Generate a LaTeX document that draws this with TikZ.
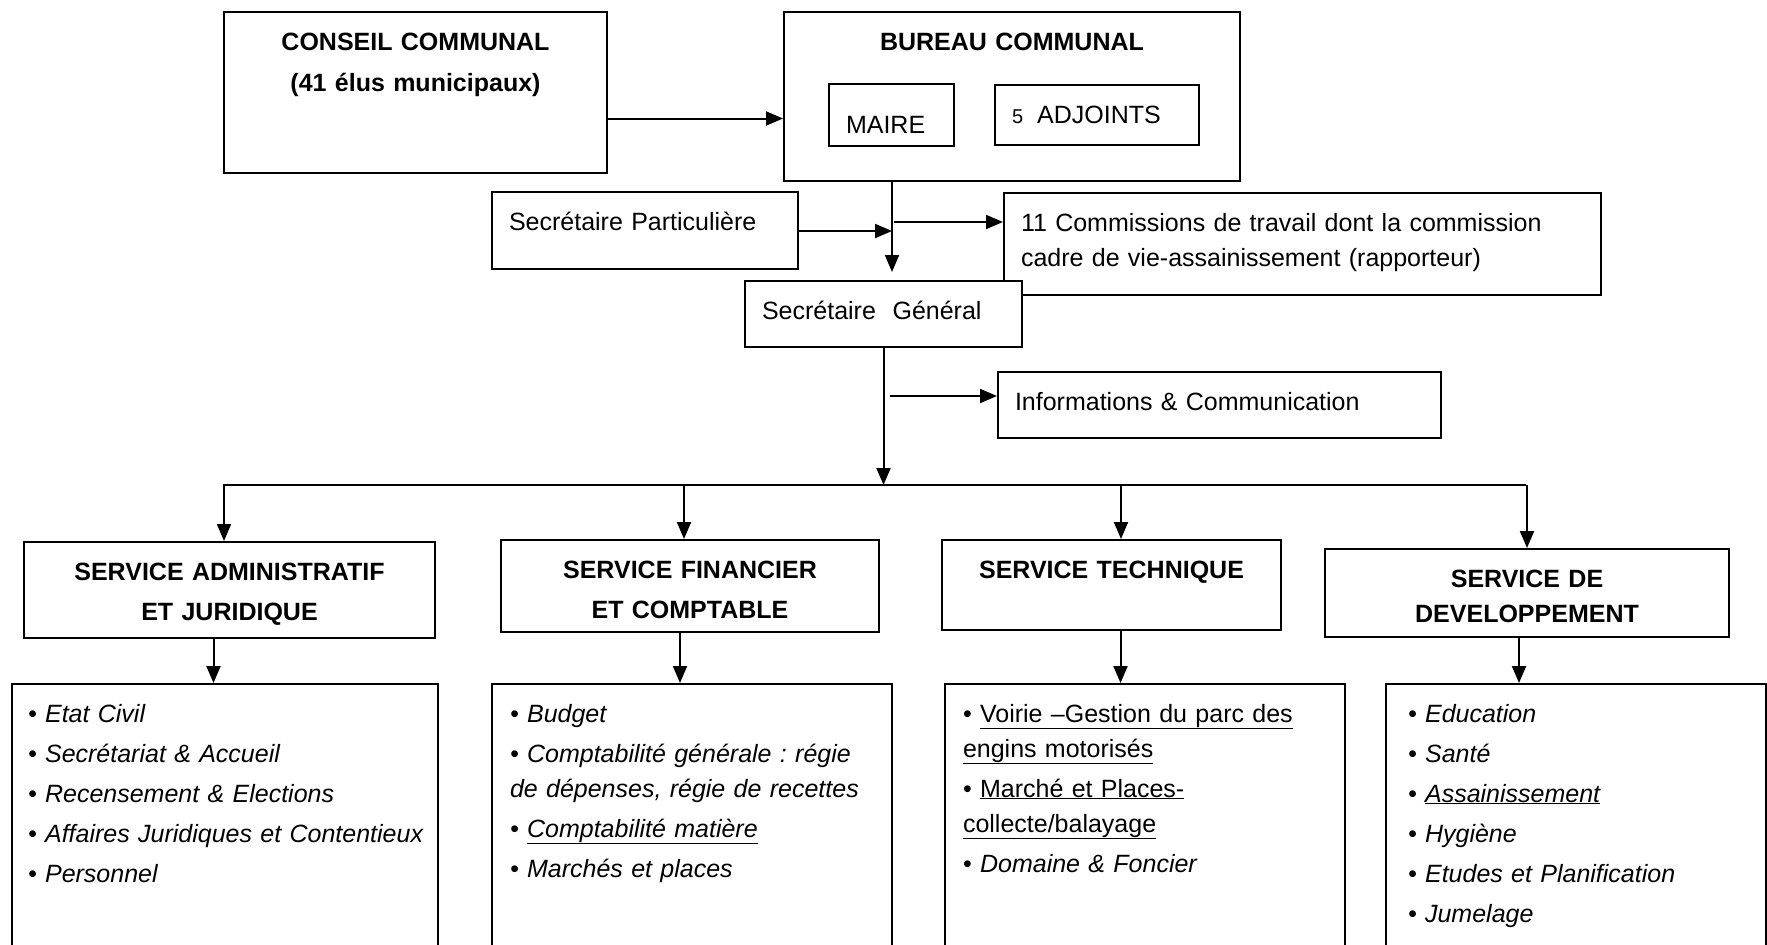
\documentclass[tikz,border=0pt]{standalone}
\usepackage{fontspec}
\setmainfont{Liberation Sans}
\usetikzlibrary{arrows.meta}
\frenchspacing

\begin{document}
\begin{tikzpicture}[x = 1pt, y = -1pt,
        orgbox/.style = {draw, line width = 2pt, fill = white, anchor = north west,
            inner xsep = 17pt, inner ysep = 0pt, text height = 38pt, align = left,
            font = \fontsize{25}{35}\selectfont},
        headbox/.style = {orgbox, align = center, font = \fontsize{25}{35}\selectfont\bfseries},
        listbox/.style = {orgbox, text depth = 244pt, font = \fontsize{25}{35}\selectfont\itshape},
        arr/.style = {line width = 2pt, -{Triangle[length = 17pt, width = 14pt]}}]
    \useasboundingbox (0,0) rectangle (1767,945);
    \clip (0,0) rectangle (1767,945);

    \node[headbox, text width = 349pt, text depth = 123pt] (conseil) at (223,11) {CONSEIL COMMUNAL\\[6pt](41 élus municipaux)};
    \node[headbox, text width = 422pt, text depth = 131pt] (bureau) at (783,11) {BUREAU COMMUNAL};
    \node[orgbox, text width = 91pt, text height = 49pt, text depth = 13pt] (maire) at (828,83) {MAIRE};
    \node[orgbox, text width = 170pt, text depth = 22pt] (adj) at (994,84) {{\fontsize{20}{24}\selectfont 5}\hspace{14pt}ADJOINTS};
    \node[orgbox, text width = 272pt, text depth = 39pt] (secp) at (491,191) {Secrétaire Particulière};
    \node[orgbox, text width = 563pt, text depth = 64pt] (comm) at (1003,192) {11 Commissions de travail dont la commission\\cadre de vie-assainissement (rapporteur)};
    \node[orgbox, text width = 243pt, text depth = 28pt] (sg) at (744,280) {Secrétaire\ \ Général};
    \node[orgbox, text width = 409pt, text depth = 28pt] (info) at (997,371) {Informations \& Communication};

    \node[headbox, text width = 377pt, text depth = 58pt] (saj) at (23,541) {SERVICE ADMINISTRATIF\\[5pt]ET JURIDIQUE};
    \node[headbox, text width = 344pt, text depth = 54pt] (sfc) at (500,539) {SERVICE FINANCIER\\[5pt]ET COMPTABLE};
    \node[headbox, text width = 305pt, text depth = 52pt] (st) at (941,539) {SERVICE TECHNIQUE};
    \node[headbox, text width = 370pt, text depth = 50pt] (sd) at (1324,548) {SERVICE DE\\DEVELOPPEMENT};

    \node[listbox, inner xsep = 16pt, text width = 394pt] (lsa) at (11,683) {• Etat Civil\\[5pt]• Secrétariat \& Accueil\\[5pt]• Recensement \& Elections\\[5pt]\mbox{• Affaires Juridiques et Contentieux}\\[5pt]• Personnel};
    \node[listbox, inner xsep = 18pt, text width = 364pt] (lsf) at (491,683) {• Budget\\[5pt]• Comptabilité générale : régie\\de dépenses, régie de recettes\\[5pt]• \underline{Comptabilité matière}\\[5pt]• Marchés et places};
    \node[listbox, inner xsep = 18pt, text width = 364pt] (lst) at (944,683) {\upshape• \underline{Voirie –Gestion du parc des}\\\underline{engins motorisés}\\[5pt]• \underline{Marché et Places-}\\\underline{collecte/balayage}\\[5pt]• \itshape Domaine \& Foncier};
    \node[listbox, inner xsep = 22pt, text width = 336pt] (lsd) at (1385,683) {• Education\\[5pt]• Santé\\[5pt]• \underline{Assainissement}\\[5pt]• Hygiène\\[5pt]• Etudes et Planification\\[5pt]• Jumelage};

    \coordinate (hub) at (892,231);
    \coordinate (hubc) at (894,222);
    \coordinate (infoc) at (890,396);
    \coordinate (busL) at (223,485);
    \coordinate (busR) at (1526,485);

    \draw[arr] ([yshift = -26pt]conseil.east) -- ([yshift = -26pt]conseil.east -| bureau.west);
    \draw[arr] (bureau.south -| hub) -- ([yshift = 8pt]sg.north -| hub);
    \draw[arr] (secp.east |- hub) -- (hub);
    \draw[arr] (hubc) -- (hubc -| comm.west);
    \draw[arr] (infoc) -- (infoc -| info.west);
    \draw[arr] (sg.south) -- (sg.south |- busL);
    \draw[line width = 2pt] (busL) -- (busR);
    \foreach \srv/\dx in {saj/-5.5, sfc/-6, st/9.5, sd/0}
        \draw[arr] ([xshift = \dx pt]\srv.north |- busL) -- ([xshift = \dx pt]\srv.north);
    \foreach \srv/\lis/\dx in {saj/lsa/-16, sfc/lsf/-10, st/lst/9, sd/lsd/-8}
        \draw[arr] ([xshift = \dx pt]\srv.south) -- ([xshift = \dx pt]\srv.south |- \lis.north);
\end{tikzpicture}
\end{document}
